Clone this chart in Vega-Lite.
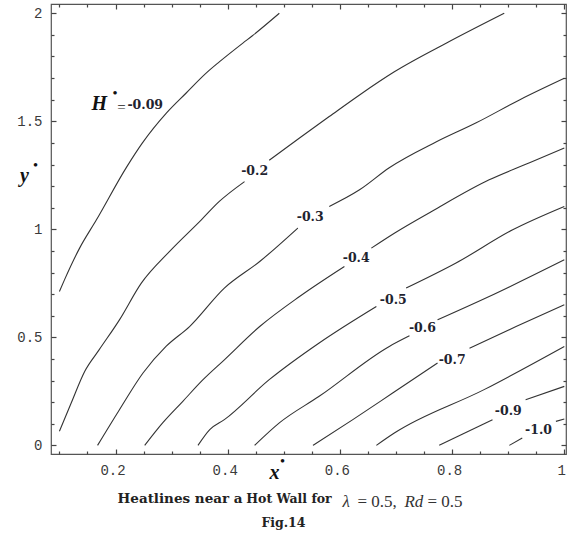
{
  "$schema": "https://vega.github.io/schema/vega-lite/v6.json",
  "width": 515,
  "height": 450,
  "autosize": {"type": "none"},
  "padding": {"left": 51, "top": 4, "right": 3, "bottom": 81},
  "background": "white",
  "config": {
    "view": {"stroke": "#555", "strokeWidth": 1.2},
    "axis": {"domain": false, "grid": false, "tickColor": "#444", "tickWidth": 1.2, "labelFont": "Liberation Mono", "labelFontSize": 14, "labelColor": "#3a3a3a"}
  },
  "resolve": {"axis": {"x": "independent", "y": "independent"}},
  "layer": [
    {
      "data": {"values": [
        {"level": -0.09, "part": 1, "x": 0.100, "y": 0.712},
        {"level": -0.09, "part": 1, "x": 0.109, "y": 0.766},
        {"level": -0.09, "part": 1, "x": 0.136, "y": 0.913},
        {"level": -0.09, "part": 1, "x": 0.166, "y": 1.044},
        {"level": -0.09, "part": 1, "x": 0.220, "y": 1.289},
        {"level": -0.09, "part": 1, "x": 0.248, "y": 1.400},
        {"level": -0.09, "part": 1, "x": 0.291, "y": 1.539},
        {"level": -0.09, "part": 1, "x": 0.326, "y": 1.631},
        {"level": -0.09, "part": 1, "x": 0.362, "y": 1.724},
        {"level": -0.09, "part": 1, "x": 0.385, "y": 1.775},
        {"level": -0.09, "part": 1, "x": 0.427, "y": 1.862},
        {"level": -0.09, "part": 1, "x": 0.444, "y": 1.896},
        {"level": -0.09, "part": 1, "x": 0.492, "y": 2.0},
        {"level": -0.2, "part": 1, "x": 0.100, "y": 0.065},
        {"level": -0.2, "part": 1, "x": 0.121, "y": 0.196},
        {"level": -0.2, "part": 1, "x": 0.145, "y": 0.342},
        {"level": -0.2, "part": 1, "x": 0.171, "y": 0.443},
        {"level": -0.2, "part": 1, "x": 0.207, "y": 0.581},
        {"level": -0.2, "part": 1, "x": 0.246, "y": 0.751},
        {"level": -0.2, "part": 1, "x": 0.296, "y": 0.897},
        {"level": -0.2, "part": 1, "x": 0.353, "y": 1.044},
        {"level": -0.2, "part": 1, "x": 0.385, "y": 1.129},
        {"level": -0.2, "part": 1, "x": 0.430, "y": 1.221},
        {"level": -0.2, "part": 2, "x": 0.474, "y": 1.320},
        {"level": -0.2, "part": 2, "x": 0.528, "y": 1.423},
        {"level": -0.2, "part": 2, "x": 0.581, "y": 1.522},
        {"level": -0.2, "part": 2, "x": 0.635, "y": 1.622},
        {"level": -0.2, "part": 2, "x": 0.697, "y": 1.729},
        {"level": -0.2, "part": 2, "x": 0.795, "y": 1.869},
        {"level": -0.2, "part": 2, "x": 0.893, "y": 2.0},
        {"level": -0.3, "part": 1, "x": 0.168, "y": 0.0},
        {"level": -0.3, "part": 1, "x": 0.207, "y": 0.165},
        {"level": -0.3, "part": 1, "x": 0.249, "y": 0.335},
        {"level": -0.3, "part": 1, "x": 0.290, "y": 0.458},
        {"level": -0.3, "part": 1, "x": 0.332, "y": 0.550},
        {"level": -0.3, "part": 1, "x": 0.394, "y": 0.728},
        {"level": -0.3, "part": 1, "x": 0.457, "y": 0.851},
        {"level": -0.3, "part": 1, "x": 0.525, "y": 1.006},
        {"level": -0.3, "part": 2, "x": 0.581, "y": 1.106},
        {"level": -0.3, "part": 2, "x": 0.635, "y": 1.183},
        {"level": -0.3, "part": 2, "x": 0.688, "y": 1.285},
        {"level": -0.3, "part": 2, "x": 0.772, "y": 1.405},
        {"level": -0.3, "part": 2, "x": 0.843, "y": 1.493},
        {"level": -0.3, "part": 2, "x": 0.920, "y": 1.599},
        {"level": -0.3, "part": 2, "x": 1.0, "y": 1.699},
        {"level": -0.4, "part": 1, "x": 0.252, "y": 0.0},
        {"level": -0.4, "part": 1, "x": 0.284, "y": 0.104},
        {"level": -0.4, "part": 1, "x": 0.320, "y": 0.204},
        {"level": -0.4, "part": 1, "x": 0.356, "y": 0.304},
        {"level": -0.4, "part": 1, "x": 0.394, "y": 0.396},
        {"level": -0.4, "part": 1, "x": 0.457, "y": 0.550},
        {"level": -0.4, "part": 1, "x": 0.528, "y": 0.689},
        {"level": -0.4, "part": 1, "x": 0.608, "y": 0.828},
        {"level": -0.4, "part": 2, "x": 0.656, "y": 0.913},
        {"level": -0.4, "part": 2, "x": 0.697, "y": 0.982},
        {"level": -0.4, "part": 2, "x": 0.765, "y": 1.085},
        {"level": -0.4, "part": 2, "x": 0.866, "y": 1.229},
        {"level": -0.4, "part": 2, "x": 0.938, "y": 1.308},
        {"level": -0.4, "part": 2, "x": 1.0, "y": 1.376},
        {"level": -0.5, "part": 1, "x": 0.347, "y": 0.0},
        {"level": -0.5, "part": 1, "x": 0.368, "y": 0.073},
        {"level": -0.5, "part": 1, "x": 0.394, "y": 0.119},
        {"level": -0.5, "part": 1, "x": 0.474, "y": 0.304},
        {"level": -0.5, "part": 1, "x": 0.563, "y": 0.474},
        {"level": -0.5, "part": 1, "x": 0.665, "y": 0.643},
        {"level": -0.5, "part": 2, "x": 0.718, "y": 0.728},
        {"level": -0.5, "part": 2, "x": 0.807, "y": 0.844},
        {"level": -0.5, "part": 2, "x": 0.908, "y": 0.998},
        {"level": -0.5, "part": 2, "x": 1.0, "y": 1.106},
        {"level": -0.6, "part": 1, "x": 0.448, "y": 0.0},
        {"level": -0.6, "part": 1, "x": 0.492, "y": 0.104},
        {"level": -0.6, "part": 1, "x": 0.563, "y": 0.227},
        {"level": -0.6, "part": 1, "x": 0.688, "y": 0.458},
        {"level": -0.6, "part": 1, "x": 0.724, "y": 0.507},
        {"level": -0.6, "part": 2, "x": 0.774, "y": 0.581},
        {"level": -0.6, "part": 2, "x": 0.866, "y": 0.689},
        {"level": -0.6, "part": 2, "x": 1.0, "y": 0.859},
        {"level": -0.7, "part": 1, "x": 0.552, "y": 0.0},
        {"level": -0.7, "part": 1, "x": 0.623, "y": 0.119},
        {"level": -0.7, "part": 1, "x": 0.694, "y": 0.242},
        {"level": -0.7, "part": 1, "x": 0.774, "y": 0.381},
        {"level": -0.7, "part": 2, "x": 0.831, "y": 0.450},
        {"level": -0.7, "part": 2, "x": 0.914, "y": 0.550},
        {"level": -0.7, "part": 2, "x": 1.0, "y": 0.651},
        {"level": -0.8, "part": 1, "x": 0.665, "y": 0.0},
        {"level": -0.8, "part": 1, "x": 0.697, "y": 0.057},
        {"level": -0.8, "part": 1, "x": 0.857, "y": 0.258},
        {"level": -0.8, "part": 1, "x": 1.0, "y": 0.458},
        {"level": -0.9, "part": 1, "x": 0.777, "y": 0.0},
        {"level": -0.9, "part": 1, "x": 0.872, "y": 0.119},
        {"level": -0.9, "part": 2, "x": 0.931, "y": 0.211},
        {"level": -0.9, "part": 2, "x": 1.0, "y": 0.273},
        {"level": -1.0, "part": 1, "x": 0.902, "y": 0.0},
        {"level": -1.0, "part": 1, "x": 0.925, "y": 0.034},
        {"level": -1.0, "part": 2, "x": 0.985, "y": 0.111},
        {"level": -1.0, "part": 2, "x": 1.0, "y": 0.122}
      ]},
      "mark": {"type": "line", "color": "#333", "strokeWidth": 1.1, "interpolate": "monotone"},
      "encoding": {
        "x": {"field": "x", "type": "quantitative", "scale": {"domain": [0.085, 1.003], "nice": false, "zero": false},
          "axis": {"orient": "bottom", "values": [0.2, 0.4, 0.6, 0.8, 1], "format": "~g", "tickSize": -5, "labelPadding": 14, "labelOffset": -3,
            "title": "x", "titleFont": "Liberation Serif", "titleFontStyle": "italic", "titleFontWeight": "bold", "titleFontSize": 20, "titleColor": "#111",
            "titleAngle": 0, "titleX": 223, "titleY": 18, "titleAlign": "center", "titleBaseline": "middle"}},
        "y": {"field": "y", "type": "quantitative", "scale": {"domain": [-0.04, 2.043], "nice": false, "zero": false},
          "axis": {"orient": "left", "values": [0, 0.5, 1, 1.5, 2], "format": "~g", "tickSize": -5, "labelPadding": 14,
            "title": "y", "titleFont": "Liberation Serif", "titleFontStyle": "italic", "titleFontWeight": "bold", "titleFontSize": 20, "titleColor": "#111",
            "titleAngle": 0, "titleX": -27, "titleY": 171, "titleAlign": "center", "titleBaseline": "middle"}},
        "detail": [{"field": "level"}, {"field": "part"}]
      }
    },
    {
      "data": {"values": [
        {"label": "-0.09", "x": 0.253, "y": 1.576},
        {"label": "-0.2", "x": 0.448, "y": 1.271},
        {"label": "-0.3", "x": 0.547, "y": 1.059},
        {"label": "-0.4", "x": 0.629, "y": 0.868},
        {"label": "-0.5", "x": 0.695, "y": 0.674},
        {"label": "-0.6", "x": 0.747, "y": 0.544},
        {"label": "-0.7", "x": 0.800, "y": 0.394},
        {"label": "-0.9", "x": 0.900, "y": 0.160},
        {"label": "-1.0", "x": 0.954, "y": 0.073}
      ]},
      "mark": {"type": "text", "font": "DejaVu Serif", "fontWeight": "bold", "fontSize": 12.5, "color": "#1f2430"},
      "encoding": {
        "x": {"field": "x", "type": "quantitative", "scale": {"domain": [0.085, 1.003], "nice": false, "zero": false},
          "axis": {"orient": "bottom", "values": [0.1, 0.15, 0.25, 0.3, 0.35, 0.45, 0.5, 0.55, 0.65, 0.7, 0.75, 0.85, 0.9, 0.95], "tickSize": -3, "labels": false, "title": null}},
        "y": {"field": "y", "type": "quantitative", "scale": {"domain": [-0.04, 2.043], "nice": false, "zero": false},
          "axis": {"orient": "left", "values": [0.1, 0.2, 0.3, 0.4, 0.6, 0.7, 0.8, 0.9, 1.1, 1.2, 1.3, 1.4, 1.6, 1.7, 1.8, 1.9], "tickSize": -3, "labels": false, "title": null}},
        "text": {"field": "label"}
      }
    },
    {
      "data": {"values": [
        {"t": "H", "x": 0.171, "y": 1.578}
      ]},
      "mark": {"type": "text", "font": "Liberation Serif", "fontWeight": "bold", "fontStyle": "italic", "fontSize": 20, "color": "#111"},
      "encoding": {
        "x": {"field": "x", "type": "quantitative", "scale": {"domain": [0.085, 1.003], "nice": false, "zero": false},
          "axis": {"orient": "top", "values": [0.2, 0.4, 0.6, 0.8, 1], "tickSize": -5, "labels": false, "title": null}},
        "y": {"field": "y", "type": "quantitative", "scale": {"domain": [-0.04, 2.043], "nice": false, "zero": false},
          "axis": {"orient": "right", "values": [0, 0.5, 1, 1.5, 2], "tickSize": -5, "labels": false, "title": null}},
        "text": {"field": "t"}
      }
    },
    {
      "data": {"values": [
        {"t": "•", "x": 0.199, "y": 1.632},
        {"t": "•", "x": 0.4976, "y": -0.071},
        {"t": "•", "x": 0.0575, "y": 1.298}
      ]},
      "mark": {"type": "text", "font": "Liberation Serif", "fontWeight": "bold", "fontSize": 13, "color": "#111"},
      "encoding": {
        "x": {"field": "x", "type": "quantitative", "scale": {"domain": [0.085, 1.003], "nice": false, "zero": false},
          "axis": {"orient": "top", "values": [0.1, 0.15, 0.25, 0.3, 0.35, 0.45, 0.5, 0.55, 0.65, 0.7, 0.75, 0.85, 0.9, 0.95], "tickSize": -3, "labels": false, "title": null}},
        "y": {"field": "y", "type": "quantitative", "scale": {"domain": [-0.04, 2.043], "nice": false, "zero": false},
          "axis": {"orient": "right", "values": [0.1, 0.2, 0.3, 0.4, 0.6, 0.7, 0.8, 0.9, 1.1, 1.2, 1.3, 1.4, 1.6, 1.7, 1.8, 1.9], "tickSize": -3, "labels": false, "title": null}},
        "text": {"field": "t"}
      }
    },
    {
      "data": {"values": [
        {"t": "=", "x": 0.2107, "y": 1.567}
      ]},
      "mark": {"type": "text", "font": "Liberation Serif", "fontSize": 15, "color": "#222"},
      "encoding": {
        "x": {"field": "x", "type": "quantitative", "axis": null},
        "y": {"field": "y", "type": "quantitative", "axis": null},
        "text": {"field": "t"}
      }
    },
    {
      "data": {"values": [
        {"t": "Heatlines near a", "x": 0.2036, "y": -0.265}
      ]},
      "mark": {"type": "text", "font": "DejaVu Serif", "fontWeight": "bold", "fontSize": 13.5, "color": "#222", "align": "left", "baseline": "alphabetic"},
      "encoding": {
        "x": {"field": "x", "type": "quantitative", "axis": null},
        "y": {"field": "y", "type": "quantitative", "axis": null},
        "text": {"field": "t"}
      }
    },
    {
      "data": {"values": [
        {"t": "Hot Wall for", "x": 0.433, "y": -0.265},
        {"t": "Fig.14", "x": 0.460, "y": -0.376}
      ]},
      "mark": {"type": "text", "font": "DejaVu Serif", "fontWeight": "bold", "fontSize": 12.5, "color": "#222", "align": "left", "baseline": "alphabetic"},
      "encoding": {
        "x": {"field": "x", "type": "quantitative", "axis": null},
        "y": {"field": "y", "type": "quantitative", "axis": null},
        "text": {"field": "t"}
      }
    },
    {
      "data": {"values": [
        {"t": "λ", "x": 0.6045, "y": -0.2835},
        {"t": "Rd", "x": 0.7149, "y": -0.2835}
      ]},
      "mark": {"type": "text", "font": "Liberation Serif", "fontStyle": "italic", "fontSize": 17, "color": "#333", "align": "left", "baseline": "alphabetic"},
      "encoding": {
        "x": {"field": "x", "type": "quantitative", "axis": null},
        "y": {"field": "y", "type": "quantitative", "axis": null},
        "text": {"field": "t"}
      }
    },
    {
      "data": {"values": [
        {"t": "= 0.5,", "x": 0.6312, "y": -0.2835},
        {"t": "= 0.5", "x": 0.7559, "y": -0.2835}
      ]},
      "mark": {"type": "text", "font": "Liberation Serif", "fontSize": 17, "color": "#333", "align": "left", "baseline": "alphabetic"},
      "encoding": {
        "x": {"field": "x", "type": "quantitative", "axis": null},
        "y": {"field": "y", "type": "quantitative", "axis": null},
        "text": {"field": "t"}
      }
    }
  ]
}
